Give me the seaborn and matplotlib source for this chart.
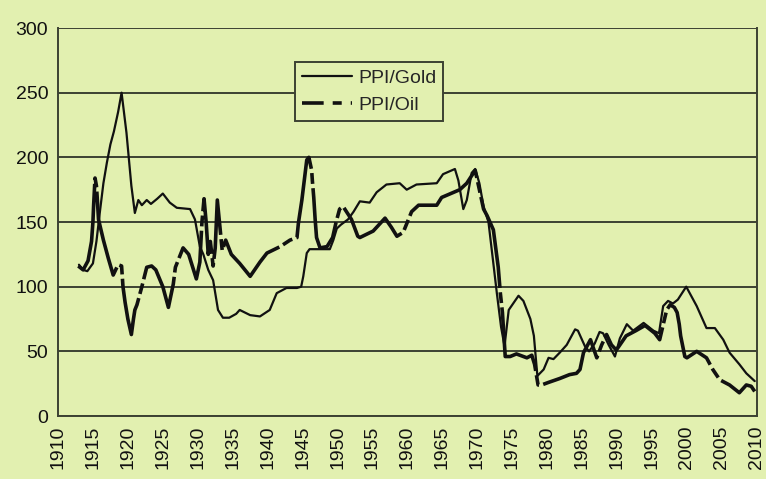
import pandas as pd
import numpy as np
import matplotlib
matplotlib.use('Agg')
import matplotlib.pyplot as plt
from matplotlib.lines import Line2D
from matplotlib.ticker import MultipleLocator
import seaborn as sns

# ── data ──────────────────────────────────────────────────────────
gold_years = [1913.0, 1913.6, 1914.2, 1915.0, 1915.5, 1916.0, 1916.5, 1917.0, 1917.5, 1918.0,
              1918.6, 1919.1, 1919.8, 1920.5, 1921.0, 1921.5, 1922.0, 1922.7, 1923.3, 1924.2,
              1925.0, 1926.0, 1927.0, 1928.9, 1929.6, 1930.3, 1930.8, 1931.5, 1932.2, 1932.9,
              1933.6, 1934.5, 1935.5, 1936.0, 1937.5, 1938.9, 1940.3, 1941.3, 1942.7, 1944.2,
              1944.8, 1945.1, 1945.6, 1946.0, 1948.9, 1949.4, 1949.9, 1950.5, 1951.5, 1952.3,
              1953.2, 1954.6, 1955.6, 1957.0, 1958.9, 1959.9, 1961.3, 1964.2, 1965.1, 1966.8,
              1967.3, 1968.0, 1968.5, 1969.2, 1969.7, 1970.3, 1970.9, 1971.6, 1972.3, 1972.8,
              1973.4, 1973.9, 1974.5, 1975.9, 1976.6, 1977.6, 1978.1, 1978.6, 1979.5, 1980.2,
              1980.9, 1981.8, 1982.8, 1984.0, 1984.4, 1985.4, 1986.0, 1986.8, 1987.5, 1988.0,
              1988.8, 1989.7, 1990.4, 1991.4, 1992.3, 1993.8, 1995.2, 1996.0, 1996.6, 1997.3,
              1998.0, 1998.7, 1999.9, 2001.4, 2002.8, 2004.0, 2005.2, 2006.1, 2007.5, 2008.5,
              2009.7]
gold_values = [117, 113, 112, 118, 135, 158, 180, 196, 210, 220,
               235, 250, 219, 178, 157, 167, 163, 167, 164, 168,
               172, 165, 161, 160, 152, 131, 125, 113, 105, 82,
               76, 76, 79, 82, 78, 77, 82, 95, 99, 99,
               100, 108, 126, 129, 129, 136, 145, 148, 152, 158,
               166, 165, 173, 179, 180, 175, 179, 180, 187, 191,
               182, 160, 167, 188, 191, 180, 162, 150, 118, 95,
               69, 54, 82, 93, 89, 75, 62, 31, 36, 45,
               44, 49, 55, 67, 66, 54, 50, 56, 65, 64,
               55, 46, 60, 71, 66, 72, 66, 64, 85, 89,
               87, 90, 100, 85, 68, 68, 59, 49, 40, 33,
               27]

oil_years = [1912.9, 1913.6, 1914.3, 1914.8, 1915.0, 1915.1, 1915.3, 1915.5, 1915.6, 1915.8,
             1916.5, 1917.2, 1917.9, 1918.6, 1919.1, 1919.3, 1919.6, 1920.0, 1920.5, 1920.8,
             1921.0, 1921.3, 1922.0, 1922.7, 1923.4, 1924.0, 1925.0, 1925.8, 1926.5, 1926.8,
             1927.9, 1928.7, 1929.8, 1930.3, 1930.6, 1930.9, 1931.2, 1931.5, 1931.8, 1932.2,
             1932.5, 1932.8, 1933.1, 1933.5, 1934.0, 1934.8, 1936.0, 1937.5, 1938.9, 1939.9,
             1941.8, 1943.2, 1944.2, 1944.4, 1944.9, 1945.2, 1945.6, 1945.9, 1946.3, 1946.4,
             1946.6, 1946.8, 1947.0, 1947.5, 1948.5, 1949.3, 1949.8, 1950.3, 1950.8, 1952.0,
             1952.9, 1953.2, 1955.1, 1956.8, 1957.7, 1958.5, 1959.4, 1960.6, 1961.6, 1964.2,
             1964.9, 1967.5, 1968.5, 1969.7, 1970.9, 1971.4, 1972.3, 1973.0, 1973.3, 1973.6,
             1974.0, 1974.7, 1975.6, 1977.1, 1977.8, 1978.2, 1978.7, 1979.2, 1980.2, 1981.8,
             1983.2, 1984.2, 1984.7, 1985.2, 1985.7, 1986.2, 1987.1, 1987.8, 1988.5, 1989.2,
             1989.9, 1991.3, 1992.7, 1994.0, 1995.4, 1996.1, 1996.8, 1997.1, 1997.6, 1998.2,
             1998.6, 1998.9, 1999.1, 1999.7, 2000.0, 2001.4, 2002.8, 2003.7, 2004.7, 2006.1,
             2007.5, 2008.5, 2009.2, 2009.7]
oil_values = [116, 113, 120, 135, 150, 163, 184, 178, 170, 152,
              136, 122, 109, 117, 116, 100, 88, 75, 63, 75,
              82, 86, 100, 115, 116, 113, 100, 84, 102, 115,
              130, 125, 106, 119, 150, 168, 150, 125, 135, 116,
              130, 167, 150, 128, 136, 125, 118, 108, 119, 126,
              131, 136, 138, 149, 167, 180, 198, 200, 190, 182,
              169, 152, 138, 130, 131, 138, 150, 160, 162, 152,
              139, 138, 143, 153, 146, 139, 142, 158, 163, 163,
              169, 175, 180, 190, 160, 155, 144, 115, 95, 80,
              46, 46, 48, 45, 47, 40, 24, 24, 26, 29,
              32, 33, 36, 49, 54, 59, 45, 55, 63, 55,
              51, 62, 66, 70, 64, 59, 75, 82, 86, 84,
              80, 71, 62, 46, 45, 50, 45, 36, 28, 24,
              18, 24, 23, 19]

series_labels = ['PPI/Gold', 'PPI/Oil']
y_ticks = [0, 50, 100, 150, 200, 250, 300]
x_ticks = list(range(1910, 2011, 5))

# ── style ─────────────────────────────────────────────────────────
bg = '#e2f0b0'
ink = '#111111'
grid_col = '#3c4232'

sns.set_theme(style='white')
plt.rcParams['font.family'] = ['Liberation Sans', 'DejaVu Sans']

gold_df = pd.DataFrame({'year': gold_years, 'value': gold_values})
oil_df = pd.DataFrame({'year': oil_years, 'value': oil_values})

fig = plt.figure(figsize=(7.66, 4.79), dpi=100, facecolor=bg)
ax = fig.add_axes([0.0757, 0.1315, 0.9123, 0.81])
ax.set_facecolor(bg)

sns.lineplot(data=gold_df, x='year', y='value', ax=ax, color=ink, lw=1.6,
             estimator=None, sort=False)
sns.lineplot(data=oil_df, x='year', y='value', ax=ax, color=ink, lw=2.6,
             estimator=None, sort=False)
# long dashes: the reference oil line is mostly unbroken
ax.lines[1].set_dashes((26, 1.2, 3, 1.2))
ax.lines[1].set_solid_capstyle('butt')

ax.set_xlim(1910, 2010)
ax.set_ylim(0, 300)
ax.set_xticks(x_ticks)
ax.xaxis.set_minor_locator(MultipleLocator(1))
ax.set_yticks(y_ticks)
ax.set_xlabel('')
ax.set_ylabel('')
ax.tick_params(axis='x', which='major', labelrotation=90, labelsize=14,
               length=4, width=1, color=grid_col, direction='out', pad=3)
ax.tick_params(axis='x', which='minor', length=4, width=1, color=grid_col, direction='out')
ax.tick_params(axis='y', labelsize=14, length=5, width=1, color=grid_col, direction='out', pad=2)
for lab in ax.get_xticklabels() + ax.get_yticklabels():
    lab.set_color(ink)

ax.grid(axis='y', color=grid_col, lw=1.4)
ax.set_axisbelow(True)
ax.spines['top'].set_visible(False)
for side in ['left', 'bottom', 'right']:
    ax.spines[side].set_color(grid_col)
    ax.spines[side].set_linewidth(1.4)

handles = [Line2D([], [], color=ink, lw=1.6),
           Line2D([], [], color=ink, lw=2.6, dashes=(6, 2.5, 2.5, 2.5))]
leg = ax.legend(handles, series_labels, loc='upper left', bbox_to_anchor=(0.339, 0.912),
                fontsize=14, frameon=True, fancybox=False, framealpha=1,
                facecolor=bg, edgecolor=grid_col, handlelength=2.6, handletextpad=0.3,
                borderpad=0.35, labelspacing=0.5, borderaxespad=0)
leg.get_frame().set_linewidth(1.4)

fig.savefig('out.png', dpi=100, facecolor=bg)
plt.close()
